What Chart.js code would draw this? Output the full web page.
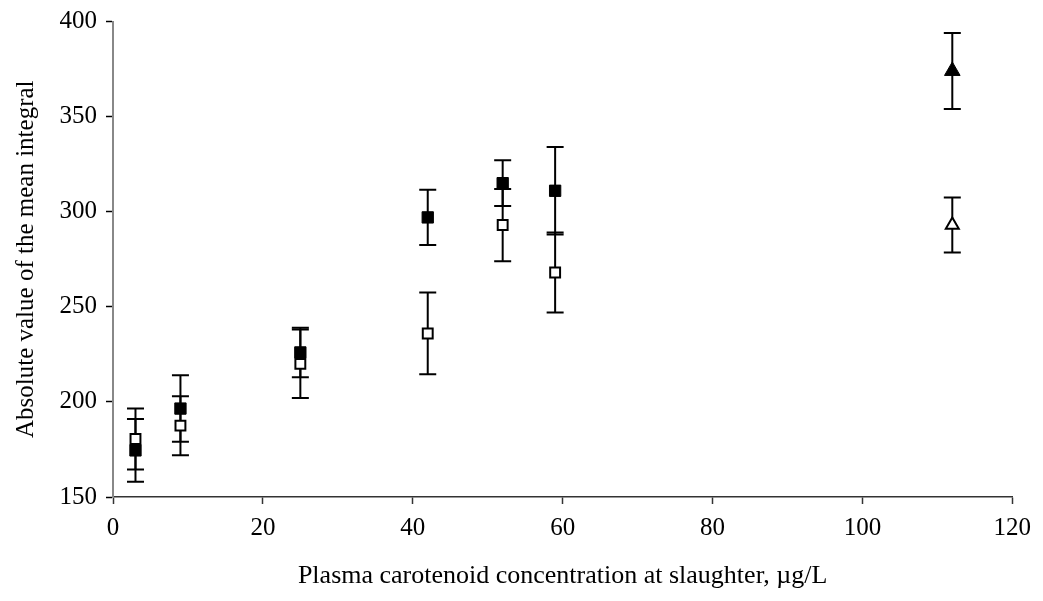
<!DOCTYPE html>
<html>
<head>
<meta charset="utf-8">
<script src="https://cdn.jsdelivr.net/npm/chart.js@4"></script>
<style>
  html, body { margin: 0; padding: 0; background: #fff; }
  #wrap { width: 1043px; height: 601px; }
</style>
</head>
<body>
<div id="wrap"><canvas id="myChart"></canvas></div>
<script>
// data
const concA = [3, 9, 25, 42, 52, 59];
const meanFilled = [174.5, 196.5, 226, 297, 315, 311];
const errFilled = [16.5, 17.5, 13, 14.5, 12, 23];
const meanOpen = [180.5, 187.5, 220, 236, 293, 268];
const errOpen = [16, 15.5, 18, 21.5, 19, 21];

const concB = [112];
const meanTriFilled = [374];
const errTriFilled = [20];
const meanTriOpen = [293];
const errTriOpen = [14.5];

const xTicks = [0, 20, 40, 60, 80, 100, 120];
const yTicks = [150, 200, 250, 300, 350, 400];

function pts(xs, ys) {
  return xs.map((x, i) => ({ x: x, y: ys[i] }));
}

const serif = "'Liberation Serif', 'Times New Roman', serif";

// error bars drawn under the markers
const errorBars = {
  id: "errorBars",
  beforeDatasetsDraw(chart) {
    const ctx = chart.ctx;
    const xs = chart.scales.x;
    const ys = chart.scales.y;
    ctx.save();
    ctx.strokeStyle = "#000";
    ctx.lineWidth = 2;
    chart.data.datasets.forEach((ds) => {
      ds.data.forEach((p, i) => {
        const e = ds.errors[i];
        const px = xs.getPixelForValue(p.x);
        const top = ys.getPixelForValue(p.y + e);
        const bot = ys.getPixelForValue(p.y - e);
        ctx.beginPath();
        ctx.moveTo(px, top);
        ctx.lineTo(px, bot);
        ctx.moveTo(px - 8.5, top);
        ctx.lineTo(px + 8.5, top);
        ctx.moveTo(px - 8.5, bot);
        ctx.lineTo(px + 8.5, bot);
        ctx.stroke();
      });
    });
    ctx.restore();
  },
};

const config = {
  type: "scatter",
  data: {
    datasets: [
      {
        label: "filled squares",
        data: pts(concA, meanFilled),
        errors: errFilled,
        pointStyle: "rect",
        pointRadius: 8,
        backgroundColor: "#000",
        borderColor: "#000",
        borderWidth: 1,
      },
      {
        label: "open squares",
        data: pts(concA, meanOpen),
        errors: errOpen,
        pointStyle: "rect",
        pointRadius: 7,
        backgroundColor: "#fff",
        borderColor: "#000",
        borderWidth: 2,
      },
      {
        label: "filled triangle",
        data: pts(concB, meanTriFilled),
        errors: errTriFilled,
        pointStyle: "triangle",
        pointRadius: 9,
        backgroundColor: "#000",
        borderColor: "#000",
        borderWidth: 1,
      },
      {
        label: "open triangle",
        data: pts(concB, meanTriOpen),
        errors: errTriOpen,
        pointStyle: "triangle",
        pointRadius: 7.5,
        backgroundColor: "#fff",
        borderColor: "#000",
        borderWidth: 2,
      },
    ],
  },
  options: {
    responsive: true,
    maintainAspectRatio: false,
    animation: false,
    events: [],
    layout: { padding: { left: 0, right: 30, top: 21, bottom: 0 } },
    plugins: {
      legend: { display: false },
      tooltip: { enabled: false },
    },
    scales: {
      x: {
        type: "linear",
        min: 0,
        max: 120,
        afterBuildTicks: (s) => { s.ticks = xTicks.map((v) => ({ value: v })); },
        afterFit: (s) => { s.height = 104; },
        border: { display: true, color: "#333", width: 1.5 },
        grid: { drawOnChartArea: false, drawTicks: true, tickLength: 7, color: "#333", tickWidth: 1.5 },
        ticks: { color: "#000", padding: 12, maxRotation: 0, font: { family: serif, size: 25, lineHeight: 1 } },
        title: {
          display: true,
          text: "Plasma carotenoid concentration at slaughter, µg/L",
          color: "#000",
          padding: { top: 0, bottom: 9 },
          font: { family: serif, size: 26 },
        },
      },
      y: {
        type: "linear",
        min: 150,
        max: 400,
        afterBuildTicks: (s) => { s.ticks = yTicks.map((v) => ({ value: v })); },
        afterFit: (s) => { s.width = 113; },
        border: { display: true, color: "#888", width: 2 },
        grid: { drawOnChartArea: false, drawTicks: true, tickLength: 7, color: "#000", tickWidth: 1.5 },
        ticks: { color: "#000", padding: 9, font: { family: serif, size: 25, lineHeight: 1 } },
        title: {
          display: true,
          text: "Absolute value of the mean integral",
          color: "#000",
          padding: { top: 11, bottom: 0 },
          font: { family: serif, size: 25 },
        },
      },
    },
  },
  plugins: [errorBars],
};

const myChart = new Chart(document.getElementById("myChart"), config);
</script>
</body>
</html>
